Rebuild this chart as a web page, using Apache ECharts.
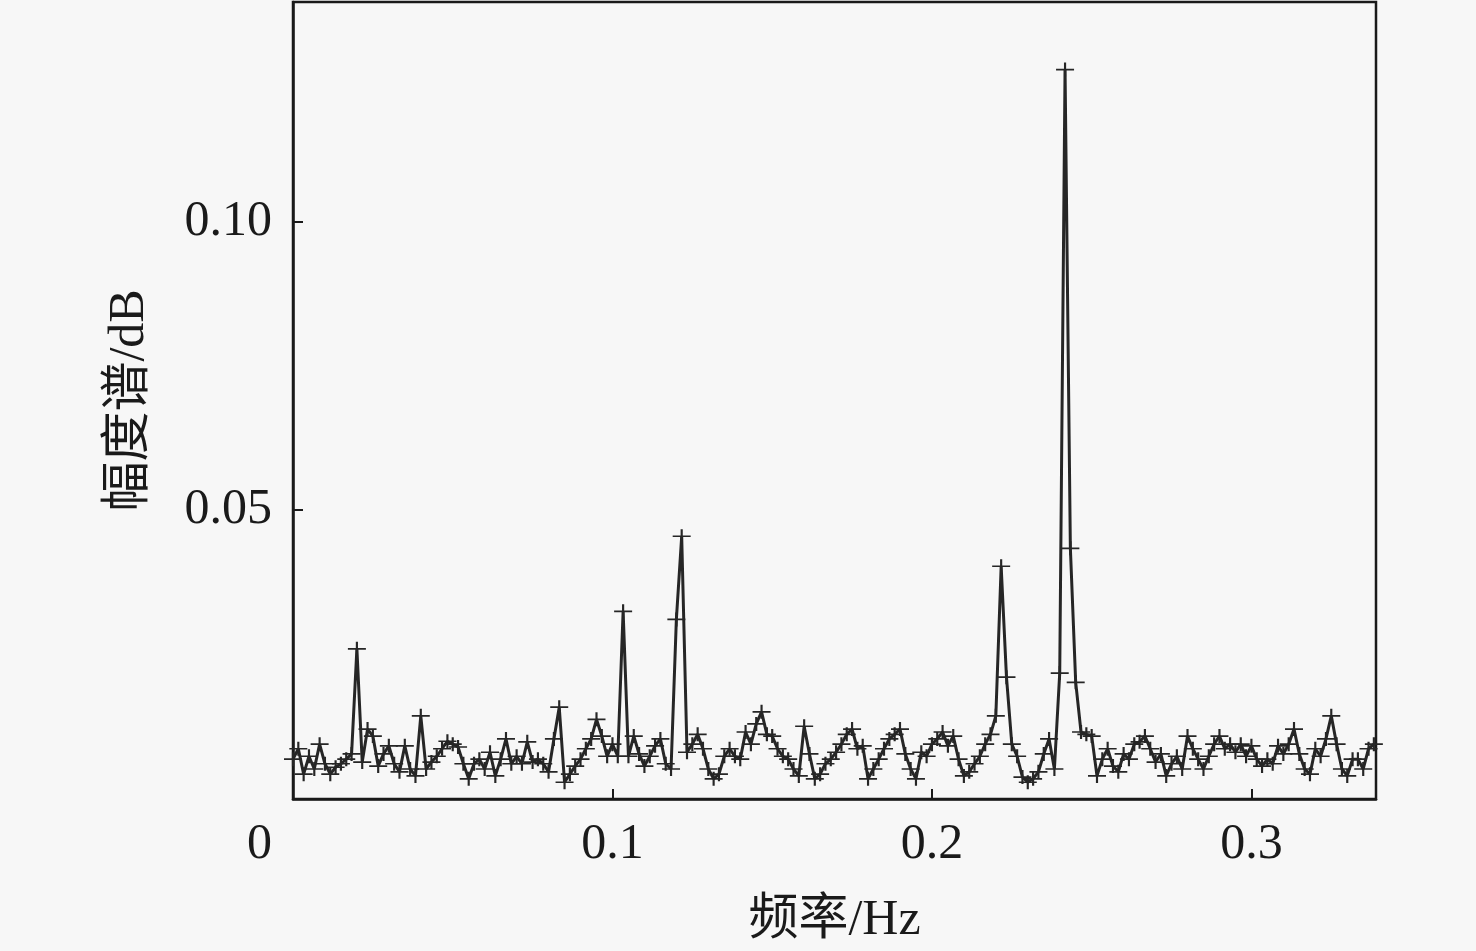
<!DOCTYPE html>
<html>
<head>
<meta charset="utf-8">
<script src="https://cdn.jsdelivr.net/npm/echarts@6/dist/echarts.min.js"></script>
<style>
html,body{margin:0;padding:0;background:#f7f7f7;}
#chart{width:1476px;height:951px;}
</style>
</head>
<body>
<div id="chart"></div>
<script>
// Frequency bin spacing (Hz) of the spectrum
const freqStep = 1 / 600;
// Amplitude spectrum values, one per frequency bin starting at 0 Hz
const amplitude = [
  0.0069,0.0087,0.0043,0.0074,0.0052,0.0095,0.0061,0.0043,0.0055,0.0061,
  0.0069,0.0078,0.0260,0.0064,0.0121,0.0109,0.0057,0.0078,0.0092,0.0061,
  0.0047,0.0092,0.0052,0.0040,0.0144,0.0052,0.0064,0.0074,0.0087,0.0100,
  0.0095,0.0090,0.0061,0.0035,0.0061,0.0069,0.0052,0.0081,0.0040,0.0069,
  0.0104,0.0061,0.0074,0.0061,0.0099,0.0064,0.0069,0.0061,0.0047,0.0104,
  0.0159,0.0029,0.0043,0.0057,0.0069,0.0087,0.0104,0.0138,0.0109,0.0074,
  0.0095,0.0074,0.0325,0.0074,0.0109,0.0078,0.0057,0.0074,0.0092,0.0104,
  0.0061,0.0052,0.0311,0.0455,0.0081,0.0095,0.0112,0.0087,0.0052,0.0035,
  0.0043,0.0074,0.0087,0.0074,0.0069,0.0116,0.0095,0.0130,0.0151,0.0112,
  0.0109,0.0087,0.0074,0.0069,0.0052,0.0040,0.0126,0.0078,0.0035,0.0043,
  0.0061,0.0069,0.0081,0.0095,0.0112,0.0121,0.0087,0.0092,0.0035,0.0052,
  0.0069,0.0087,0.0104,0.0112,0.0121,0.0078,0.0052,0.0035,0.0081,0.0074,
  0.0095,0.0104,0.0116,0.0092,0.0109,0.0069,0.0040,0.0047,0.0061,0.0074,
  0.0095,0.0112,0.0144,0.0403,0.0211,0.0095,0.0074,0.0038,0.0029,0.0035,
  0.0047,0.0078,0.0104,0.0052,0.0218,0.1263,0.0434,0.0202,0.0116,0.0112,
  0.0109,0.0040,0.0069,0.0087,0.0057,0.0047,0.0078,0.0069,0.0095,0.0099,
  0.0109,0.0087,0.0064,0.0078,0.0040,0.0061,0.0074,0.0052,0.0109,0.0087,
  0.0069,0.0052,0.0074,0.0095,0.0109,0.0087,0.0095,0.0081,0.0095,0.0074,
  0.0092,0.0069,0.0057,0.0069,0.0061,0.0092,0.0078,0.0095,0.0121,0.0078,
  0.0052,0.0043,0.0087,0.0074,0.0104,0.0144,0.0095,0.0052,0.0040,0.0069,
  0.0069,0.0052,0.0087,0.0095
];
const xTickValues = [0.1, 0.2, 0.3];
const yTickValues = [0, 0.05, 0.10];
const xAxisTitle = '频率/Hz';
const yAxisTitle = '幅度谱/dB';

const seriesData = amplitude.map((v, i) => [i * freqStep, v]);

const FONT = '"Liberation Serif", "Noto Sans CJK SC", serif';
const FS = 50;
const chart = echarts.init(document.getElementById('chart'));
chart.setOption({
  backgroundColor: '#f7f7f7',
  animation: false,
  grid: {
    left: 293, right: 100, top: 2, bottom: 152,
    outerBoundsMode: 'none', containLabel: false,
    show: true, borderColor: '#1a1a1a', borderWidth: 2.5, backgroundColor: 'transparent'
  },
  xAxis: {
    type: 'value', min: 0, max: 0.339, interval: 0.1,
    name: xAxisTitle, nameLocation: 'middle', nameGap: 97,
    nameTextStyle: { fontFamily: FONT, fontSize: FS, color: '#1a1a1a' },
    axisLine: { show: true, lineStyle: { color: '#1a1a1a', width: 2.5 } },
    axisTick: { show: true, inside: true, length: 10, lineStyle: { color: '#1a1a1a', width: 2 } },
    splitLine: { show: false },
    axisLabel: {
      showMaxLabel: false, margin: 21,
      fontFamily: FONT, fontSize: FS, color: '#1a1a1a',
      formatter: v => (xTickValues.some(t => Math.abs(t - v) < 1e-9) ? String(+v.toFixed(1)) : '')
    }
  },
  yAxis: {
    type: 'value', min: 0, max: 0.138, interval: 0.05,
    name: yAxisTitle, nameLocation: 'middle', nameGap: 138, nameRotate: 90,
    nameTextStyle: { fontFamily: FONT, fontSize: FS, color: '#1a1a1a' },
    axisLine: { show: true, lineStyle: { color: '#1a1a1a', width: 2.5 } },
    axisTick: { show: true, inside: true, length: 10, lineStyle: { color: '#1a1a1a', width: 2 } },
    splitLine: { show: false },
    axisLabel: {
      showMaxLabel: false, margin: 21,
      fontFamily: FONT, fontSize: FS, color: '#1a1a1a',
      formatter: v => {
        if (Math.abs(v) < 1e-9) return '{z|0}';
        return yTickValues.some(t => Math.abs(t - v) < 1e-9) ? v.toFixed(2) : '';
      },
      rich: { z: { fontFamily: FONT, fontSize: FS, color: '#1a1a1a', padding: [92, 0, 0, 0] } }
    }
  },
  series: [{
    type: 'line',
    data: seriesData,
    symbol: 'path://M0,4.4H10V5.6H0Z M4.4,0H5.6V10H4.4Z',
    symbolSize: [18, 14],
    itemStyle: { color: '#262626' },
    lineStyle: { color: '#262626', width: 3 },
    showAllSymbol: true
  }]
});
</script>
</body>
</html>
